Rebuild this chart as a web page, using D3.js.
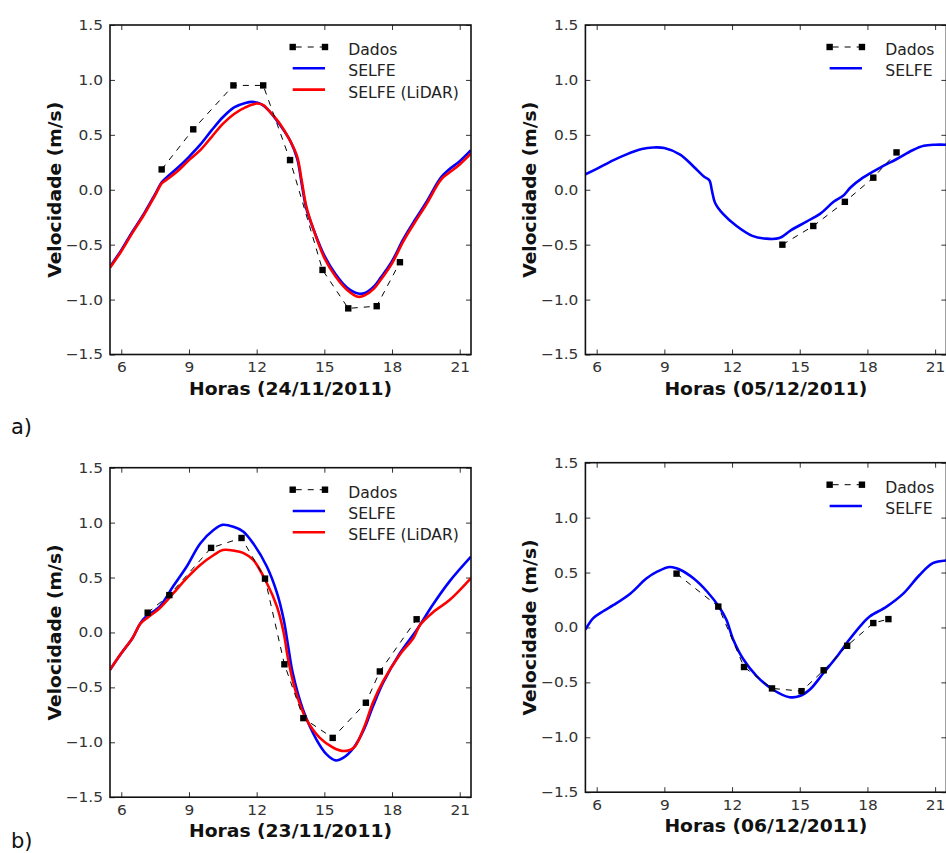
<!DOCTYPE html>
<html>
<head>
<meta charset="utf-8">
<script src="https://cdn.jsdelivr.net/npm/d3@7"></script>
<style>
    body { margin: 0; background: #fff; }
    svg { display: block; }
    text { font-family: "DejaVu Sans", sans-serif; }
</style>
</head>
<body>
<script>
// eixos comuns
var hourTicks = [6, 9, 12, 15, 18, 21];
var velTicks = [-1.5, -1.0, -0.5, 0.0, 0.5, 1.0, 1.5];
var hourDomain = [5.5, 21.5];
var velDomain = [-1.5, 1.5];

// a) 24/11/2011
var dados2411 = [[7.79, 0.185], [9.19, 0.55], [10.97, 0.95], [12.29, 0.95], [13.48, 0.27],
    [14.92, -0.73], [16.06, -1.08], [17.32, -1.06], [18.35, -0.66]];
var selfe2411 = [[5.5, -0.70], [6.0, -0.55], [6.5, -0.38], [7.0, -0.22], [7.5, -0.04], [7.8, 0.07],
    [8.0, 0.11], [8.5, 0.20], [9.0, 0.30], [9.5, 0.41], [10.0, 0.54], [10.5, 0.66], [11.0, 0.75],
    [11.5, 0.79], [11.8, 0.80], [12.2, 0.78], [12.5, 0.73], [13.0, 0.60], [13.5, 0.44], [13.8, 0.28],
    [14.0, 0.05], [14.2, -0.17], [14.5, -0.35], [15.0, -0.60], [15.5, -0.77], [16.0, -0.89],
    [16.5, -0.945], [16.8, -0.94], [17.2, -0.88], [17.5, -0.80], [18.0, -0.65], [18.5, -0.45],
    [19.0, -0.28], [19.5, -0.12], [20.0, 0.06], [20.2, 0.12], [20.5, 0.18], [21.0, 0.26], [21.5, 0.36]];
var lidar2411 = [[5.5, -0.71], [6.0, -0.56], [6.5, -0.39], [7.0, -0.23], [7.5, -0.05], [7.8, 0.06],
    [8.0, 0.09], [8.5, 0.17], [9.0, 0.27], [9.5, 0.36], [10.0, 0.48], [10.5, 0.60], [11.0, 0.69],
    [11.5, 0.75], [12.0, 0.785], [12.3, 0.77], [12.5, 0.73], [13.0, 0.61], [13.5, 0.44], [13.8, 0.30],
    [14.0, 0.08], [14.2, -0.15], [14.5, -0.35], [15.0, -0.62], [15.5, -0.79], [16.0, -0.91],
    [16.5, -0.975], [16.8, -0.96], [17.2, -0.90], [17.5, -0.82], [18.0, -0.67], [18.5, -0.47],
    [19.0, -0.30], [19.5, -0.14], [20.0, 0.04], [20.2, 0.10], [20.5, 0.15], [21.0, 0.23], [21.5, 0.33]];

// a) 05/12/2011
var dados0512 = [[14.23, -0.50], [15.6, -0.33], [17.0, -0.11], [18.26, 0.11], [19.29, 0.34]];
var selfe0512 = [[5.5, 0.14], [6.0, 0.19], [6.75, 0.27], [7.3, 0.32], [8.0, 0.37], [8.5, 0.385],
    [9.0, 0.38], [9.7, 0.32], [10.3, 0.21], [10.75, 0.12], [11.0, 0.085], [11.1, 0.0], [11.25, -0.12],
    [11.6, -0.22], [12.2, -0.33], [12.9, -0.42], [13.5, -0.445], [14.1, -0.44], [14.6, -0.37],
    [15.3, -0.29], [15.9, -0.22], [16.5, -0.11], [16.95, -0.05], [17.25, 0.02], [17.8, 0.11],
    [18.55, 0.20], [19.3, 0.28], [20.0, 0.36], [20.5, 0.40], [21.0, 0.41], [21.5, 0.41]];

// b) 23/11/2011
var dados2311 = [[7.17, 0.18], [8.13, 0.34], [9.98, 0.77], [11.33, 0.86], [12.37, 0.49], [13.23, -0.29],
    [14.07, -0.78], [15.37, -0.96], [16.84, -0.64], [17.46, -0.355], [19.09, 0.12]];
var selfe2311 = [[5.5, -0.34], [6.0, -0.19], [6.5, -0.05], [6.85, 0.085], [7.1, 0.145], [7.7, 0.235],
    [8.3, 0.42], [8.9, 0.60], [9.5, 0.81], [10.1, 0.935], [10.5, 0.98], [11.0, 0.96], [11.4, 0.92],
    [11.85, 0.81], [12.45, 0.60], [12.9, 0.36], [13.2, 0.115], [13.4, -0.13], [13.6, -0.37],
    [14.05, -0.70], [14.65, -0.975], [15.1, -1.11], [15.5, -1.165], [15.85, -1.14], [16.3, -1.05],
    [16.75, -0.885], [17.15, -0.675], [17.6, -0.46], [18.35, -0.19], [19.1, 0.025], [19.8, 0.25],
    [20.55, 0.465], [21.5, 0.69]];
var lidar2311 = [[5.5, -0.34], [6.0, -0.19], [6.5, -0.05], [6.85, 0.08], [7.2, 0.14], [7.7, 0.22],
    [8.3, 0.355], [8.9, 0.495], [9.5, 0.615], [10.1, 0.705], [10.5, 0.75], [11.0, 0.745], [11.4, 0.725],
    [11.85, 0.66], [12.45, 0.45], [12.9, 0.235], [13.2, -0.005], [13.4, -0.25], [13.75, -0.55],
    [14.2, -0.79], [14.8, -0.96], [15.4, -1.05], [15.85, -1.08], [16.3, -1.05], [16.75, -0.87],
    [17.15, -0.64], [17.6, -0.445], [18.35, -0.20], [18.95, -0.05], [19.25, 0.07], [19.85, 0.19],
    [20.55, 0.295], [21.5, 0.495]];

// b) 06/12/2011
var dados0612 = [[9.54, 0.49], [11.39, 0.19], [12.53, -0.36], [13.77, -0.555], [15.08, -0.58],
    [16.06, -0.39], [17.1, -0.167], [18.26, 0.04], [18.93, 0.076]];
var selfe0612 = [[5.5, -0.02], [5.85, 0.085], [6.3, 0.15], [6.75, 0.205], [7.5, 0.31], [8.2, 0.445],
    [8.7, 0.51], [9.25, 0.55], [9.7, 0.525], [10.3, 0.445], [10.9, 0.325], [11.45, 0.18], [11.75, 0.07],
    [12.05, -0.11], [12.5, -0.29], [13.1, -0.445], [13.8, -0.565], [14.55, -0.635], [15.0, -0.625],
    [15.45, -0.565], [16.05, -0.415], [16.65, -0.265], [17.2, -0.11], [17.8, 0.04], [18.1, 0.10],
    [18.85, 0.19], [19.6, 0.31], [20.3, 0.475], [20.9, 0.585], [21.5, 0.61]];

var panels = [
    { left: 110, top: 25, xlabel: "Horas (24/11/2011)", dados: dados2411, selfe: selfe2411, lidar: lidar2411 },
    { left: 585.4, top: 25, xlabel: "Horas (05/12/2011)", dados: dados0512, selfe: selfe0512, lidar: null },
    { left: 110, top: 467.7, xlabel: "Horas (23/11/2011)", dados: dados2311, selfe: selfe2311, lidar: lidar2311 },
    { left: 585.4, top: 462.7, xlabel: "Horas (06/12/2011)", dados: dados0612, selfe: selfe0612, lidar: null }
];

var plotW = 361;
var plotH = 329.5;
var sxTick = 1.1;    // o texto da figura original esta esticado na horizontal
var sxLeg = 1.04;
var sxLabel = 1.07;

var svg = d3.select("body")
    .append("svg")
    .attr("width", 946)
    .attr("height", 853);

var line = function(x, y) {
    return d3.line()
        .x(function(d) { return x(d[0]); })
        .y(function(d) { return y(d[1]); })
        .curve(d3.curveCatmullRom.alpha(0.5));
};

panels.forEach(function(p, i) {
    var x = d3.scaleLinear().domain(hourDomain).range([0, plotW]);
    var y = d3.scaleLinear().domain(velDomain).range([plotH, 0]);

    var g = svg.append("g")
        .attr("transform", "translate(" + p.left + "," + p.top + ")");

    g.append("clipPath")
        .attr("id", "clip" + i)
        .append("rect")
        .attr("width", plotW)
        .attr("height", plotH);

    // ticks para dentro nos quatro lados
    var fmt = d3.format(".1f");
    var bottom = g.append("g").attr("transform", "translate(0," + plotH + ")")
        .call(d3.axisBottom(x).tickValues(hourTicks).tickSize(-5).tickPadding(8));
    var left = g.append("g")
        .call(d3.axisLeft(y).tickValues(velTicks).tickFormat(fmt).tickSize(-5).tickPadding(7));
    g.append("g")
        .call(d3.axisTop(x).tickValues(hourTicks).tickSize(-5).tickFormat(""));
    g.append("g").attr("transform", "translate(" + plotW + ",0)")
        .call(d3.axisRight(y).tickValues(velTicks).tickSize(-5).tickFormat(""));

    g.selectAll(".domain").remove();
    g.selectAll(".tick line").attr("stroke", "#333");

    bottom.selectAll("text")
        .attr("font-size", 14)
        .attr("font-family", "DejaVu Sans")
        .attr("fill", "#333")
        .attr("transform", "scale(" + sxTick + ",1)");
    left.selectAll("text")
        .attr("font-size", 14)
        .attr("font-family", "DejaVu Sans")
        .attr("fill", "#333")
        .attr("x", -7 / sxTick)
        .attr("transform", "scale(" + sxTick + ",1)");

    var curves = g.append("g").attr("clip-path", "url(#clip" + i + ")");
    curves.append("path")
        .datum(p.selfe)
        .attr("fill", "none")
        .attr("stroke", "#0000ff")
        .attr("stroke-width", 2.6)
        .attr("d", line(x, y));
    if (p.lidar) {
        curves.append("path")
            .datum(p.lidar)
            .attr("fill", "none")
            .attr("stroke", "#ff0000")
            .attr("stroke-width", 2.6)
            .attr("d", line(x, y));
    }

    g.append("path")
        .datum(p.dados)
        .attr("fill", "none")
        .attr("stroke", "#000")
        .attr("stroke-width", 1)
        .attr("stroke-dasharray", "6,6")
        .attr("d", d3.line().x(function(d) { return x(d[0]); }).y(function(d) { return y(d[1]); }));

    g.selectAll(".sq")
        .data(p.dados)
        .enter()
        .append("rect")
        .classed("sq", true)
        .attr("x", function(d) { return x(d[0]) - 3.2; })
        .attr("y", function(d) { return y(d[1]) - 3.2; })
        .attr("width", 6.4)
        .attr("height", 6.4)
        .attr("fill", "#000");

    g.append("rect")
        .attr("width", plotW)
        .attr("height", plotH)
        .attr("fill", "none")
        .attr("stroke", "#111")
        .attr("stroke-width", 1.6);

    // legenda
    var entries = [{ name: "Dados", kind: "dados" }, { name: "SELFE", color: "#0000ff" }];
    if (p.lidar) entries.push({ name: "SELFE (LiDAR)", color: "#ff0000" });

    var leg = g.append("g");
    var texts = leg.selectAll("text")
        .data(entries)
        .enter()
        .append("text")
        .attr("font-size", 15)
        .attr("fill", "#222")
        .text(function(d) { return d.name; });
    var maxW = d3.max(texts.nodes(), function(n) { return n.getComputedTextLength(); }) * sxLeg;
    var tx = plotW - 12 - maxW;
    texts.attr("transform", function(d, j) {
        return "translate(" + tx + "," + (22 + 21.3 * j + 8) + ") scale(" + sxLeg + ",1)";
    });

    entries.forEach(function(e, j) {
        var ry = 22 + 21.3 * j;
        if (e.kind === "dados") {
            leg.append("line")
                .attr("x1", tx - 55.6).attr("x2", tx - 23.3)
                .attr("y1", ry).attr("y2", ry)
                .attr("stroke", "#000")
                .attr("stroke-dasharray", "6,6")
                .attr("stroke-dashoffset", -3);
            [tx - 55.6, tx - 23.3].forEach(function(mx) {
                leg.append("rect")
                    .attr("x", mx - 3.2).attr("y", ry - 3.2)
                    .attr("width", 6.4).attr("height", 6.4)
                    .attr("fill", "#000");
            });
        } else {
            leg.append("line")
                .attr("x1", tx - 55.6).attr("x2", tx - 23.3)
                .attr("y1", ry).attr("y2", ry)
                .attr("stroke", e.color)
                .attr("stroke-width", 2.6);
        }
    });

    // titulos dos eixos
    g.append("text")
        .attr("transform", "translate(" + (plotW / 2) + "," + (plotH + 40) + ") scale(" + sxLabel + ",1)")
        .attr("text-anchor", "middle")
        .attr("font-size", 17.5)
        .attr("font-weight", "bold")
        .attr("fill", "#111")
        .text(p.xlabel);
    g.append("text")
        .attr("transform", "translate(-49.5," + (plotH / 2) + ") rotate(-90) scale(" + sxLabel + ",1)")
        .attr("text-anchor", "middle")
        .attr("font-size", 17.5)
        .attr("font-weight", "bold")
        .attr("fill", "#111")
        .text("Velocidade (m/s)");
});

svg.append("text")
    .attr("x", 11).attr("y", 434)
    .attr("font-family", "Liberation Sans, Arial, sans-serif")
    .attr("font-size", 21)
    .attr("fill", "#111")
    .text("a)");
svg.append("text")
    .attr("x", 11).attr("y", 848)
    .attr("font-family", "Liberation Sans, Arial, sans-serif")
    .attr("font-size", 21)
    .attr("fill", "#111")
    .text("b)");
</script>
</body>
</html>
